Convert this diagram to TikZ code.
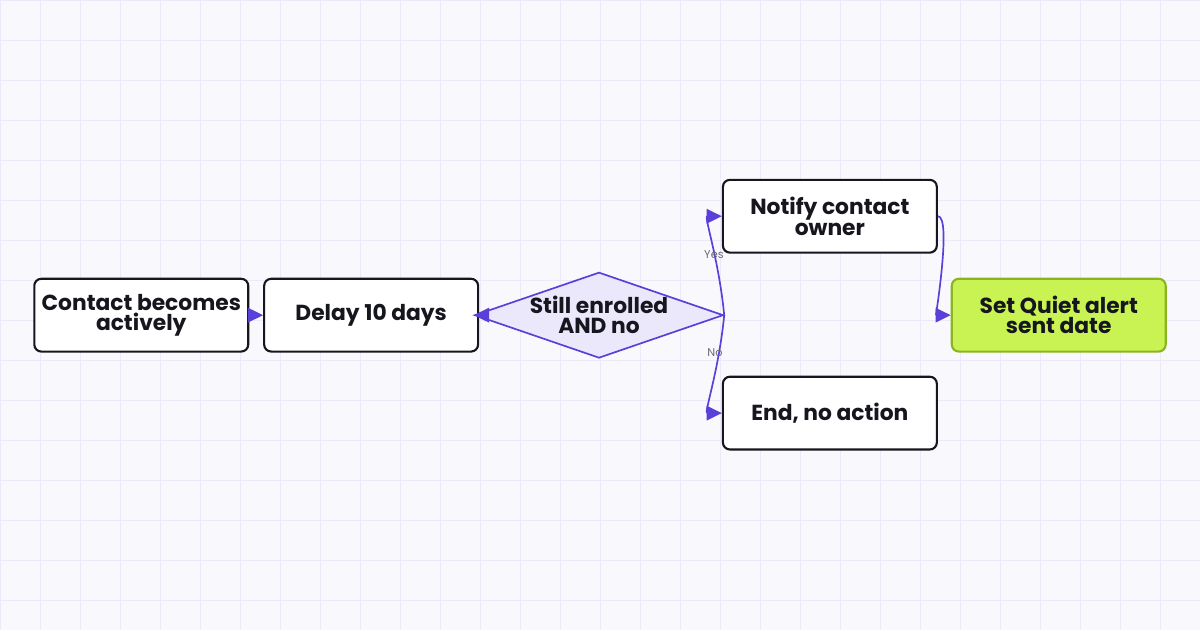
\documentclass[tikz,border=0pt]{standalone}
\usepackage{fontspec}
\setmainfont{Poppins}
\usetikzlibrary{shapes.geometric, arrows.meta, positioning}
\definecolor{flowbg}{HTML}{F9F9FD}
\definecolor{flowgrid}{HTML}{ECEAF8}
\definecolor{flowline}{HTML}{5B3FD9}
\definecolor{flowdark}{HTML}{16161E}
\definecolor{flowdiam}{HTML}{ECE8FB}
\definecolor{flowgreen}{HTML}{C9F352}
\definecolor{flowgreenb}{HTML}{8BB51E}
\definecolor{flowlabel}{HTML}{6A6A72}
\begin{document}
\begin{tikzpicture}[x=0.025cm, y=-0.025cm,
    step/.style={rectangle, rounded corners=5pt, draw=flowdark, line width=1.5pt, fill=#1, minimum width=5.35cm, minimum height=1.82cm, align=center, font=\fontsize{15.5}{14.5}\selectfont\bfseries, text=flowdark, inner sep=1pt},
    decision/.style={diamond, draw=flowline, line width=1.2pt, fill=flowdiam, minimum width=5.75cm, minimum height=2cm, aspect=2.9, inner sep=0pt, align=center, font=\fontsize{15.5}{14.5}\selectfont\bfseries, text=flowdark},
    arrow/.style={-{Triangle[length=3.8mm, width=3.6mm]}, line width=1.2pt, color=flowline},
    edgelabel/.style={font=\fontsize{8}{9}\selectfont, text=flowlabel}
]

% Background and grid
\fill[flowbg] (0,0) rectangle (1200,630);
\draw[flowgrid, line width=0.5pt] (0,0) grid[step=1cm] (1200,630);
\useasboundingbox (0,0) rectangle (1200,630);

% Steps
\node[step=white] (contact) at (141,315) {Contact becomes\\actively};
\node[step=white] (delay) at (371,315) {Delay 10 days};
\node[decision] (check) at (599,315) {Still enrolled\\AND no};
\node[step=white] (notify) at (830,216) {Notify contact\\owner};
\node[step=white] (noaction) at (830,413) {End, no action};
\node[step=flowgreen, draw=flowgreenb] (setdate) at (1059,315) {Set Quiet alert\\sent date};

% Connectors
\draw[arrow] (contact) -- (delay);
\draw[arrow] (delay) -- (check);
\draw[arrow] (check.east) .. controls (719,260) and (704,216) .. (notify.west);
\draw[arrow] (check.east) .. controls (719,370) and (704,413) .. (noaction.west);
\draw[arrow] (notify.east) .. controls (952,216) and (936,315) .. (setdate.west);

% Branch labels
\node[edgelabel] (yes) at (714,254) {Yes};
\node[edgelabel] (no) at (715,352) {No};

\end{tikzpicture}
\end{document}
